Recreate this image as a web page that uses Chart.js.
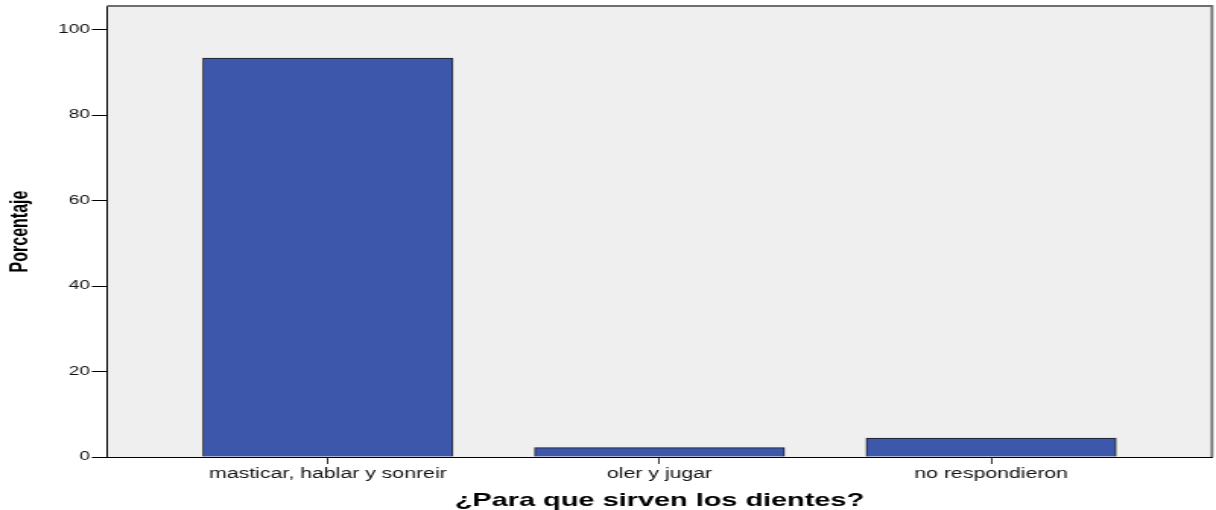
<!DOCTYPE html>
<html>
<head>
<meta charset="utf-8">
<script src="https://cdn.jsdelivr.net/npm/chart.js@4.4.1/dist/chart.umd.min.js"></script>
<style>
  html, body { margin: 0; padding: 0; background: #fff; overflow: hidden; }
  /* the reference is an SPSS chart stretched sideways, so draw narrow and stretch */
  #wrap { width: 800px; height: 510px; transform: scaleX(1.52); transform-origin: 0 0; }
</style>
</head>
<body>
<div id="wrap"><canvas id="dientesChart"></canvas></div>
<script>
const categorias = ["masticar, hablar y sonreir", "oler y jugar", "no respondieron"];
const porcentajes = [93.3, 2.2, 4.4];
const ticksY = [0, 20, 40, 60, 80, 100];

const ESTIRA = 1.52;
const fuente = "'Liberation Sans', Arial, sans-serif";

const fondoPlot = {
  id: "fondoPlot",
  beforeDraw(chart) {
    const { ctx, chartArea: a } = chart;
    ctx.save();
    ctx.fillStyle = "#efefef";
    ctx.fillRect(a.left, a.top, a.right - a.left, a.bottom - a.top);
    ctx.restore();
  },
  afterDraw(chart) {
    const { ctx, chartArea: a } = chart;
    ctx.save();
    ctx.strokeStyle = "#6e6e6e";
    ctx.lineWidth = 1.8;
    ctx.beginPath();
    ctx.moveTo(a.left, a.top);
    ctx.lineTo(a.right, a.top);
    ctx.lineTo(a.right, a.bottom);
    ctx.stroke();
    ctx.restore();
  }
};

const ctx = document.getElementById("dientesChart");

new Chart(ctx, {
  type: "bar",
  data: {
    datasets: [
      {
        label: "Porcentaje",
        data: categorias.map((c, i) => ({ x: i, y: porcentajes[i] })),
        backgroundColor: "#3d57ab",
        borderColor: "#1c1c1c",
        borderWidth: 1,
        barThickness: 250 / ESTIRA
      }
    ]
  },
  options: {
    responsive: true,
    maintainAspectRatio: false,
    animation: false,
    layout: { padding: { top: 6, right: 4 / ESTIRA, left: 0, bottom: 0 } },
    plugins: {
      legend: { display: false },
      tooltip: { enabled: false }
    },
    scales: {
      x: {
        type: "linear",
        min: -0.666,
        max: 2.666,
        offset: false,
        afterBuildTicks: (s) => { s.ticks = categorias.map((c, i) => ({ value: i })); },
        afterFit: (s) => { s.height = 53; s.paddingLeft = 0; s.paddingRight = 0; },
        ticks: {
          autoSkip: false,
          maxRotation: 0,
          padding: 1.6,
          color: "#111",
          font: { family: fuente, size: 14 },
          callback: (v) => categorias[v]
        },
        grid: { offset: false, drawOnChartArea: false, drawTicks: true, tickLength: 7, color: "#333" },
        border: { display: true, color: "#000", width: 1 },
        title: {
          display: true,
          text: "¿Para que sirven los dientes?",
          color: "#000",
          font: { family: fuente, size: 19, weight: "bold", lineHeight: 1 },
          padding: { top: 0, bottom: 0 }
        }
      },
      y: {
        min: 0,
        max: 105.5,
        afterBuildTicks: (s) => { s.ticks = ticksY.map((v) => ({ value: v })); },
        afterFit: (s) => { s.width = 107 / ESTIRA; s.paddingTop = 0; s.paddingBottom = 0; },
        ticks: {
          padding: 1.2,
          color: "#111",
          font: { family: fuente, size: 12.5 }
        },
        grid: { drawOnChartArea: false, drawTicks: true, tickLength: 10, color: "#000" },
        border: { display: true, color: "#000", width: 1 },
        title: {
          display: true,
          text: "Porcentaje",
          color: "#000",
          font: { family: fuente, size: 16, weight: "bold", lineHeight: 1 },
          padding: { top: 6, bottom: 0 }
        }
      }
    }
  },
  plugins: [fondoPlot]
});
</script>
</body>
</html>
